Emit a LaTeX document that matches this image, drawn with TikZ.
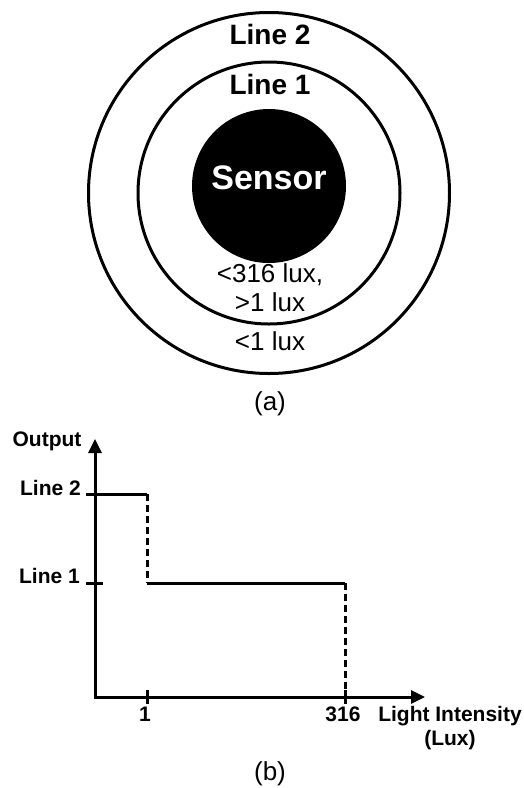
\documentclass[tikz,border=0pt]{standalone}
\usepackage{fontspec}
\setmainfont{Liberation Sans}
\usetikzlibrary{arrows.meta}

\begin{document}
\begin{tikzpicture}[x=1pt,y=-1pt,
  ring/.style={draw,circle,line width=3pt,inner sep=0pt},
  ringtitle/.style={inner sep=0pt,text height=0.72em,text depth=0pt,font=\bfseries\fontsize{28}{32}\selectfont},
  ringtext/.style={inner sep=0pt,text height=0.72em,text depth=0pt,font=\fontsize{26}{30}\selectfont},
  axislabel/.style={inner sep=0pt,text height=0.72em,text depth=0pt,font=\bfseries\fontsize{21}{25}\selectfont},
  stepline/.style={line width=3pt},
  dropline/.style={line width=3pt,dash pattern=on 7pt off 4pt},
  axisline/.style={line width=3pt,{Triangle[length=14pt,width=13pt]}-{Triangle[length=14pt,width=13pt]}}]
  \useasboundingbox (0,0) rectangle (524,788);
  % (a) sensor and the two lines round it
  \node[ring,minimum size=361pt] (line2ring) at (269,193) {};
  \node[ring,minimum size=262pt] (line1ring) at (269,193) {};
  \node[circle,fill=black,minimum size=154pt,inner sep=0pt,text=white,text height=0.72em,text depth=0pt,font=\bfseries\fontsize{34}{40}\selectfont] (sensor) at (269,186) {Sensor};
  \node[ringtitle] (line2txt) at (270,41) {Line 2};
  \node[ringtitle] (line1txt) at (270,91) {Line 1};
  \node[ringtext] (midtxt) at (270,279) {<316 lux,};
  \node[ringtext] (midtxtb) at (270,308) {>1 lux};
  \node[ringtext] (lowtxt) at (270,347) {<1 lux};
  \node[ringtext] (capa) at (270,407) {(a)};
  % (b) output against light intensity
  \coordinate (origin) at (95,697);
  \coordinate (ytip) at (95,439);
  \coordinate (xtip) at (425,697);
  \coordinate (line2y) at (95,494);
  \coordinate (line1y) at (95,583);
  \coordinate (onex) at (147,697);
  \coordinate (maxx) at (345,697);
  \coordinate (stepa) at (147,494);
  \coordinate (stepb) at (147,583);
  \coordinate (stepc) at (345,583);
  \draw[axisline] (ytip) -- (origin) -- (xtip);
  \draw[stepline] ([xshift=-9pt]line2y) -- (stepa);
  \draw[dropline] (stepa) -- (stepb);
  \draw[stepline] (stepb) -- (stepc);
  \draw[dropline] (stepc) -- (maxx);
  \draw[stepline] ([xshift=-9pt]line1y) -- ([xshift=8pt]line1y);
  \draw[stepline] ([yshift=7pt]onex) -- ([yshift=-7pt]onex);
  \draw[stepline] ([yshift=7pt]maxx) -- ([yshift=-7pt]maxx);
  \node[axislabel] (outlbl) at (47,443) {Output};
  \node[axislabel,anchor=east] (line2lbl) at (81,492) {Line 2};
  \node[axislabel,anchor=east] (line1lbl) at (80,580) {Line 1};
  \node[axislabel] (onelbl) at (145,718) {1};
  \node[axislabel] (maxlbl) at (343,718) {316};
  \node[axislabel] (xlbl) at (450,718) {Light Intensity};
  \node[axislabel] (unitlbl) at (450,742) {(Lux)};
  \node[ringtext] (capb) at (270,777) {(b)};
\end{tikzpicture}
\end{document}
